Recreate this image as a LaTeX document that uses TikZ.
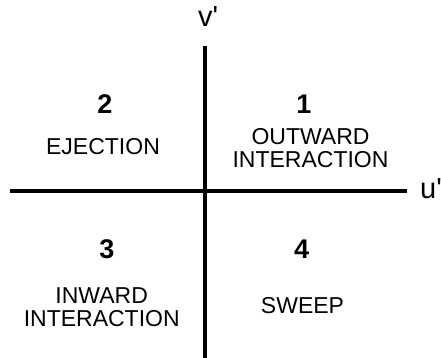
\documentclass[tikz,border=0pt]{standalone}
\usepackage{fontspec}
\setmainfont{Liberation Sans}
% plain family without TeX ligatures, so ' stays a straight prime
\newfontfamily\axisfont{Liberation Sans}
\begin{document}
\begin{tikzpicture}[x=1pt,y=1pt,
  axis/.style={line width=3.2pt},
  quadnum/.style={font=\fontsize{27}{27}\selectfont\bfseries, anchor=base, inner sep=0pt},
  quadname/.style={font=\fontsize{23}{23}\selectfont, align=center, inner sep=0pt},
  axislabel/.style={font=\axisfont\fontsize{29}{29}\selectfont, inner sep=0pt}]
  \useasboundingbox (0,0) rectangle (441,358);

  % axes
  \coordinate (vtop) at (205,312);
  \coordinate (vbot) at (205,0);
  \coordinate (uleft) at (10,167);
  \coordinate (uright) at (407,167);
  \draw[axis] (vbot) -- (vtop);
  \draw[axis] (uleft) -- (uright);
  \node[axislabel, anchor=base west] (vlab) at (198,331.5) {v'};
  \node[axislabel, anchor=base west] (ulab) at (420,159) {u'};

  % quadrant 1
  \node[quadnum] (n1) at (304,244.7) {1};
  \node[quadname] (q1) at (310.5,210.2) {OUTWARD\\INTERACTION};
  % quadrant 2
  \node[quadnum] (n2) at (105,244.7) {2};
  \node[quadname, anchor=base] (q2) at (103,203) {EJECTION};
  % quadrant 3
  \node[quadnum] (n3) at (107,99.7) {3};
  \node[quadname] (q3) at (101.7,50.5) {INWARD\\INTERACTION};
  % quadrant 4
  \node[quadnum] (n4) at (301.7,99.7) {4};
  \node[quadname, anchor=base] (q4) at (302.5,44.7) {SWEEP};
\end{tikzpicture}
\end{document}
